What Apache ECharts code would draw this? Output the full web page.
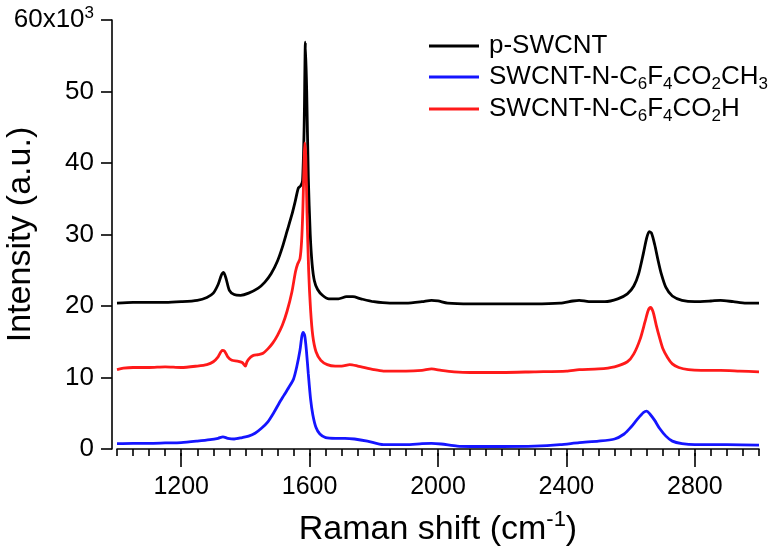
<!DOCTYPE html>
<html>
<head>
<meta charset="utf-8">
<script src="https://cdn.jsdelivr.net/npm/echarts@6/dist/echarts.min.js"></script>
<style>
html,body{margin:0;padding:0;background:#fff;}
#c{width:784px;height:560px;}
</style>
</head>
<body>
<div id="c"></div>
<script>
// Raman shift (cm^-1) and intensity (x10^3 a.u.)
var xBlack = [1000,1050,1100,1150,1200,1250,1280,1300,1315,1325,1332,1340,1350,1365,1385,1410,1440,1460,1480,1500,1515,1530,1545,1555,1565,1572,1578,1583,1587,1591,1596,1602,1608,1615,1625,1640,1660,1690,1715,1735,1760,1800,1850,1900,1950,1980,2000,2030,2100,2200,2300,2380,2420,2440,2470,2520,2560,2590,2610,2625,2640,2650,2658,2665,2675,2685,2695,2710,2730,2760,2800,2850,2880,2920,2960,3000];
var yBlack = [20.4,20.5,20.5,20.5,20.6,20.8,21.2,21.8,23.0,24.3,24.7,23.8,22.2,21.6,21.5,21.8,22.5,23.3,24.5,26.3,28.2,30.5,32.8,34.6,36.5,36.8,37.5,45,56.9,50,38,30,25.8,23.5,22.3,21.5,21.0,21.0,21.3,21.3,21.0,20.6,20.4,20.4,20.6,20.8,20.7,20.4,20.3,20.3,20.3,20.4,20.7,20.8,20.6,20.6,21.0,21.7,22.8,24.5,27.4,29.5,30.4,30.2,28.6,26.5,24.6,22.6,21.4,20.8,20.6,20.7,20.8,20.6,20.4,20.4];

var xBlue = [1000,1050,1100,1150,1200,1250,1290,1315,1330,1345,1365,1390,1410,1430,1450,1470,1490,1505,1520,1535,1550,1560,1570,1576,1580,1585,1590,1596,1603,1610,1620,1632,1650,1680,1710,1740,1780,1830,1900,1950,1980,2010,2060,2100,2200,2300,2380,2440,2500,2550,2580,2600,2620,2640,2650,2660,2675,2690,2710,2730,2760,2800,2900,3000];
var yBlue = [0.75,0.8,0.8,0.85,0.9,1.1,1.3,1.5,1.7,1.5,1.4,1.6,1.8,2.2,2.9,3.8,5.2,6.4,7.5,8.6,9.8,11.5,13.8,15.8,16.3,15.8,13.8,10.5,7.0,4.8,3.0,2.1,1.6,1.5,1.5,1.4,1.1,0.6,0.6,0.75,0.8,0.7,0.4,0.35,0.35,0.4,0.6,0.9,1.1,1.4,2.1,3.0,4.1,5.1,5.3,4.9,4.0,2.9,1.8,1.1,0.75,0.6,0.6,0.55];

var xRed = [1000,1020,1050,1100,1150,1200,1250,1280,1300,1315,1328,1335,1345,1358,1375,1390,1400,1405,1415,1425,1440,1455,1470,1485,1500,1515,1530,1545,1556,1563,1570,1575,1579,1583,1585,1588,1592,1597,1603,1610,1620,1635,1655,1680,1700,1725,1750,1800,1830,1900,1950,1980,2010,2050,2100,2200,2300,2400,2440,2500,2550,2590,2610,2630,2645,2655,2662,2670,2680,2690,2700,2715,2730,2750,2780,2820,2880,2940,3000];
var yRed = [11.1,11.3,11.4,11.4,11.5,11.4,11.6,11.8,12.2,12.9,13.8,13.7,12.9,12.4,12.3,12.1,11.6,12.2,12.8,13.1,13.2,13.4,14.0,14.8,15.9,17.3,19.3,22.0,24.8,25.9,26.6,29.0,33.5,40.5,42.8,41,33,25,19.5,15.8,13.6,12.4,11.8,11.6,11.6,11.8,11.6,11.1,10.9,10.9,11.0,11.2,11.0,10.8,10.7,10.7,10.8,10.9,11.1,11.2,11.5,12.2,13.3,15.4,17.8,19.4,19.8,19.2,17.3,15.6,14.1,12.8,11.9,11.4,11.1,11.0,11.0,10.9,10.8];

var seriesNames = ['p-SWCNT','SWCNT-N-C6F4CO2CH3','SWCNT-N-C6F4CO2H'];
var legendLabels = ['p-SWCNT','SWCNT-N-C{sub|6}F{sub|4}CO{sub|2}CH{sub|3}','SWCNT-N-C{sub|6}F{sub|4}CO{sub|2}H'];
var majorTicks = [1200,1600,2000,2400,2800];
var yTicks = [0,10,20,30,40,50,60];

function pairs(xs, ys){ return xs.map(function(x,i){ return [x, ys[i]]; }); }

var FONT = 'Liberation Sans, Arial, Helvetica, sans-serif';
var colors = ['#000000','#1515ff','#ff1a1a'];

var chart = echarts.init(document.getElementById('c'));
var legendTops = [25, 56, 88];
var richLegend = {
  sub: {fontSize: 17, lineHeight: 17, verticalAlign: 'bottom', fontFamily: FONT, color: '#000'}
};
var legends = seriesNames.map(function(n, i){
  return {
    data: [n], left: 424, top: legendTops[i], orient: 'vertical',
    itemWidth: 50, itemHeight: 3, icon: 'rect',
    textStyle: {fontSize: 26, lineHeight: 32, fontFamily: FONT, color: '#000', padding: [0,0,0,5], rich: richLegend},
    formatter: function(){ return legendLabels[i]; },
    selectedMode: false
  };
});

chart.setOption({
  animation: false,
  backgroundColor: '#fff',
  textStyle: {fontFamily: FONT},
  legend: legends,
  grid: {left: 117, right: 25, top: 20, bottom: 111, containLabel: false, outerBoundsMode: 'none'},
  xAxis: [{
    type: 'value', min: 1000, max: 3000, interval: 50, position: 'bottom', offset: 4,
    axisLine: {show: true, lineStyle: {color: '#000', width: 1.6}},
    axisTick: {show: true, length: 7, lineStyle: {color: '#000', width: 1.6}},
    axisLabel: {show: false},
    splitLine: {show: false}
  },{
    type: 'value', min: 1000, max: 3000, position: 'bottom', offset: 4,
    axisLine: {show: false},
    axisTick: {show: true, length: 14, customValues: majorTicks, lineStyle: {color: '#000', width: 1.6}},
    axisLabel: {show: true, customValues: majorTicks, fontSize: 25, color: '#000', margin: 22, fontFamily: FONT,
      formatter: function(v){ return String(v); }},
    splitLine: {show: false},
    name: '{t|Raman shift (cm}{s|-1}{t|)}', nameLocation: 'middle', nameGap: 56,
    nameTextStyle: {rich: {
      t: {fontSize: 34, lineHeight: 42, color: '#000', fontFamily: FONT},
      s: {fontSize: 22, lineHeight: 24, verticalAlign: 'top', color: '#000', fontFamily: FONT}
    }}
  }],
  yAxis: {
    type: 'value', min: 0, max: 60, interval: 10, offset: 5,
    axisLine: {show: true, lineStyle: {color: '#000', width: 1.6}},
    axisTick: {show: true, length: 11, lineStyle: {color: '#000', width: 1.6}},
    axisLabel: {
      fontSize: 26, color: '#000', margin: 18, fontFamily: FONT,
      formatter: function(v){ return v === 60 ? '{b|60x10}{s|3}' : String(v); },
      rich: {
        b: {fontSize: 26, lineHeight: 30, color: '#000', fontFamily: FONT},
        s: {fontSize: 17, lineHeight: 17, verticalAlign: 'top', color: '#000', fontFamily: FONT}
      }
    },
    splitLine: {show: false},
    name: 'Intensity (a.u.)', nameLocation: 'middle', nameGap: 74, nameRotate: 90, nameMoveOverlap: false,
    nameTextStyle: {fontSize: 34, color: '#000', fontFamily: FONT}
  },
  series: [
    {name: seriesNames[0], type: 'line', xAxisIndex: 0, data: pairs(xBlack, yBlack), showSymbol: false, smooth: 0.25, lineStyle: {color: colors[0], width: 2.8}, itemStyle: {color: colors[0]}},
    {name: seriesNames[1], type: 'line', xAxisIndex: 0, data: pairs(xBlue, yBlue), showSymbol: false, smooth: 0.25, lineStyle: {color: colors[1], width: 2.8}, itemStyle: {color: colors[1]}},
    {name: seriesNames[2], type: 'line', xAxisIndex: 0, data: pairs(xRed, yRed), showSymbol: false, smooth: 0.25, lineStyle: {color: colors[2], width: 2.8}, itemStyle: {color: colors[2]}}
  ]
});
</script>
</body>
</html>
